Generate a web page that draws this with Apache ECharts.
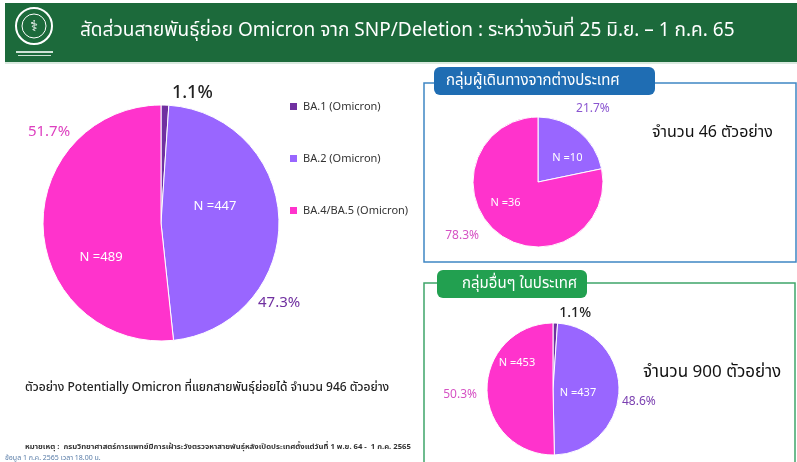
<!DOCTYPE html>
<html>
<head>
<meta charset="utf-8">
<script src="https://cdn.jsdelivr.net/npm/echarts@6/dist/echarts.min.js"></script>
<style>
  html, body { margin: 0; padding: 0; background: #fff; }
  #chart { width: 797px; height: 462px; }
</style>
</head>
<body>
<div id="chart"></div>
<script>
// sub-lineage counts (Omicron), 25 Jun - 1 Jul 65
const variants = ['BA.1 (Omicron)', 'BA.2 (Omicron)', 'BA.4/BA.5 (Omicron)']
const allCounts = [10, 447, 489]        // all samples, 946
const travellerCounts = [0, 10, 36]     // travellers from abroad, 46
const domesticCounts = [10, 437, 453]   // other groups in country, 900

const sliceColors = ['#7030a0', '#9966ff', '#ff33cc']
const FONT = '"Noto Sans", "Noto Sans Thai", Roboto, sans-serif'

// label nudges per slice: [inside N label, outside % label]
const pies = [
  {
    counts: allCounts, center: [161, 223], radius: 118,
    nFont: 13, pFont: [18, 15, 15], pWeight: ['500', 'normal', 'normal'],
    pColor: ['#222', '#7030a0', '#dd3fbf'],
    inNudge: [[0, 0], [-8, -15], [2, 31]],
    outNudge: [[7, -12], [-21, 82], [27, -98]]
  },
  {
    counts: travellerCounts, center: [538, 182], radius: 65,
    nFont: 11, pFont: [12, 12, 12], pWeight: ['normal', 'normal', 'normal'],
    pColor: ['#222', '#8a55d0', '#d653c4'],
    inNudge: [[0, 0], [7, 3], [-10, -7]],
    outNudge: [[0, 0], [-3, -23], [-18, 3]]
  },
  {
    counts: domesticCounts, center: [553, 389], radius: 66,
    nFont: 11, pFont: [14, 12, 12], pWeight: ['500', 'normal', 'normal'],
    pColor: ['#222', '#7a3fb0', '#d653c4'],
    inNudge: [[0, 0], [-11, 3], [0, -27]],
    outNudge: [[4, -10], [3, 11], [-10, 5]]
  }
]

function pct(v, counts) {
  const total = counts.reduce((a, b) => a + b, 0)
  return (v / total * 100).toFixed(1) + '%'
}

const series = []
pies.forEach((p, pi) => {
  const items = []
  const labelItems = []
  const total = p.counts.reduce((a, b) => a + b, 0)
  variants.forEach((name, i) => {
    if (!p.counts[i]) return
    const small = p.counts[i] / total < 0.05
    items.push({
      name: name,
      value: p.counts[i],
      itemStyle: { color: sliceColors[i] },
      label: { show: !small, offset: p.inNudge[i] }
    })
    labelItems.push({
      name: name,
      value: p.counts[i],
      label: {
        offset: p.outNudge[i],
        color: p.pColor[i],
        fontSize: p.pFont[i],
        fontWeight: p.pWeight[i]
      }
    })
  })
  series.push({
    name: 'pie' + pi,
    type: 'pie',
    center: p.center,
    radius: p.radius,
    startAngle: 90,
    clockwise: true,
    avoidLabelOverlap: false,
    silent: true,
    itemStyle: { borderColor: '#fff', borderWidth: 1 },
    label: {
      position: 'inside',
      color: '#fff',
      fontSize: p.nFont,
      fontFamily: FONT,
      formatter: (d) => 'N =' + d.value
    },
    labelLine: { show: false },
    data: items
  })
  series.push({
    name: 'pct' + pi,
    type: 'pie',
    center: p.center,
    radius: p.radius,
    startAngle: 90,
    clockwise: true,
    avoidLabelOverlap: false,
    silent: true,
    itemStyle: { color: 'rgba(0,0,0,0)' },
    label: {
      position: 'outside',
      alignTo: 'none',
      distanceToLabelLine: 0,
      fontFamily: FONT,
      formatter: (d) => pct(d.value, p.counts)
    },
    labelLine: { show: false, length: 0, length2: 0 },
    data: labelItems
  })
})

const chart = echarts.init(document.getElementById('chart'))
chart.setOption({
  animation: false,
  backgroundColor: '#fff',
  legend: {
    orient: 'vertical',
    left: 283,
    top: 96,
    itemGap: 41,
    itemWidth: 9,
    itemHeight: 9,
    icon: 'rect',
    selectedMode: false,
    textStyle: { fontSize: 11, color: '#333', fontFamily: FONT },
    data: variants.map((v, i) => ({ name: v, itemStyle: { color: sliceColors[i] } }))
  },
  graphic: [
    { type: 'rect', shape: { x: 5, y: 3, width: 792, height: 59 }, style: { fill: '#1c6a3b' } },
    { type: 'rect', shape: { x: 5, y: 62, width: 792, height: 2 }, style: { fill: '#d9e9df' } },
    // logo
    { type: 'circle', shape: { cx: 34, cy: 26, r: 18 }, style: { fill: '#1c6a3b', stroke: '#fff', lineWidth: 2 } },
    { type: 'circle', shape: { cx: 34, cy: 26, r: 12 }, style: { fill: 'none', stroke: '#fff', lineWidth: 1 } },
    { type: 'text', style: { x: 34, y: 27, text: '⚕', fill: '#fff', fontSize: 15, align: 'center', verticalAlign: 'middle' } },
    { type: 'rect', shape: { x: 16, y: 51, width: 37, height: 2 }, style: { fill: '#cfe3d6' } },
    { type: 'rect', shape: { x: 18, y: 55, width: 33, height: 1 }, style: { fill: '#cfe3d6' } },
    {
      type: 'text',
      style: {
        x: 80, y: 31, text: 'สัดส่วนสายพันธุ์ย่อย Omicron จาก SNP/Deletion : ระหว่างวันที่ 25 มิ.ย. – 1 ก.ค. 65',
        fill: '#fff', fontSize: 19, fontFamily: FONT, verticalAlign: 'middle'
      }
    },
    {
      type: 'text',
      style: {
        x: 25, y: 388, text: 'ตัวอย่าง Potentially Omicron ที่แยกสายพันธุ์ย่อยได้ จำนวน 946 ตัวอย่าง',
        fill: '#222', fontSize: 12, fontWeight: '500', fontFamily: FONT, verticalAlign: 'middle'
      }
    },
    {
      type: 'text',
      style: {
        x: 25, y: 447, text: 'หมายเหตุ :  กรมวิทยาศาสตร์การแพทย์มีการเฝ้าระวังตรวจหาสายพันธุ์หลังเปิดประเทศตั้งแต่วันที่ 1 พ.ย. 64 -  1 ก.ค. 2565',
        fill: '#333', fontSize: 7.7, fontWeight: 'bold', fontFamily: FONT, verticalAlign: 'middle'
      }
    },
    {
      type: 'text',
      style: {
        x: 5, y: 458, text: 'ข้อมูล 1 ก.ค. 2565 เวลา 18.00 น.',
        fill: '#5a7da8', fontSize: 7, fontFamily: FONT, verticalAlign: 'middle'
      }
    },
    // travellers panel
    { type: 'rect', shape: { x: 424, y: 83, width: 372, height: 179 }, style: { fill: 'none', stroke: '#3f86c4', lineWidth: 1.5 } },
    { type: 'rect', shape: { x: 434, y: 67, width: 221, height: 28, r: 6 }, style: { fill: '#1f6db3' } },
    {
      type: 'text',
      style: { x: 446, y: 81, text: 'กลุ่มผู้เดินทางจากต่างประเทศ', fill: '#fff', fontSize: 15, fontFamily: FONT, verticalAlign: 'middle' }
    },
    {
      type: 'text',
      style: { x: 652, y: 132, text: 'จำนวน 46 ตัวอย่าง', fill: '#111', fontSize: 16, fontFamily: FONT, verticalAlign: 'middle' }
    },
    // domestic panel
    { type: 'rect', shape: { x: 424, y: 283, width: 371, height: 190 }, style: { fill: 'none', stroke: '#3fa56a', lineWidth: 1.5 } },
    { type: 'rect', shape: { x: 437, y: 270, width: 150, height: 28, r: 6 }, style: { fill: '#22a050' } },
    {
      type: 'text',
      style: { x: 462, y: 284, text: 'กลุ่มอื่นๆ ในประเทศ', fill: '#fff', fontSize: 15, fontFamily: FONT, verticalAlign: 'middle' }
    },
    {
      type: 'text',
      style: { x: 643, y: 372, text: 'จำนวน 900 ตัวอย่าง', fill: '#111', fontSize: 17, fontFamily: FONT, verticalAlign: 'middle' }
    }
  ],
  series: series
})
</script>
</body>
</html>
